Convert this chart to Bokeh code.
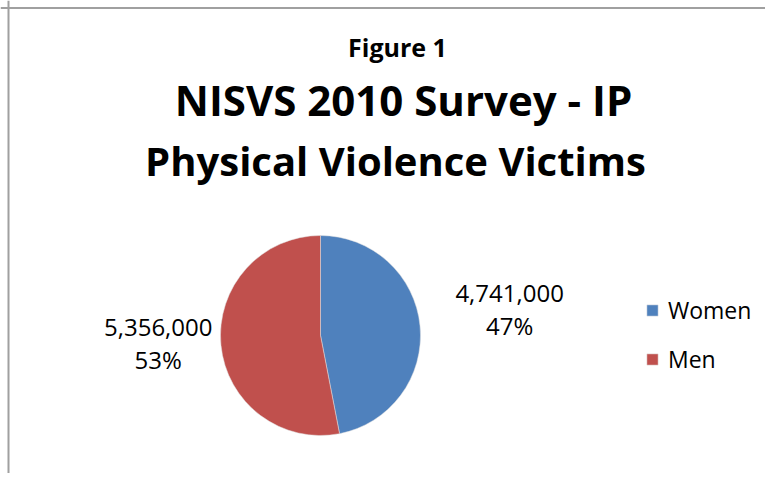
import math
from bokeh.plotting import figure
from bokeh.models import Range1d, Label, Legend, LegendItem, Span
from bokeh.embed import file_html
from bokeh.resources import INLINE

# ---- data ----
categories = ["Women", "Men"]
victims = [4741000, 5356000]
colors = ["#4F81BD", "#C0504D"]
fig_label = "Figure 1"
title_lines = ["NISVS 2010 Survey - IP", "Physical Violence Victims"]

W, H = 765, 473
FONT = "Open Sans"

p = figure(width=W, height=H, output_backend="svg", toolbar_location=None,
           x_range=Range1d(0, W), y_range=Range1d(0, H),
           min_border=0, outline_line_color=None)
p.axis.visible = False
p.grid.visible = False
p.background_fill_color = "white"
p.border_fill_color = "white"

# chart frame (left and top edges visible)
p.add_layout(Span(location=8, dimension="height", line_color="#A0A0A0", line_width=2))
p.add_layout(Span(location=H - 7.5, dimension="width", line_color="#A0A0A0", line_width=2))

# pie geometry
cx, cy, R = 320, H - 335, 100
total = sum(victims)
fracs = [v / total for v in victims]
starts, ends, mids = [], [], []
a = math.pi / 2
for f in fracs:
    e = a - f * 2 * math.pi
    starts.append(e)
    ends.append(a)
    mids.append((a + e) / 2)
    a = e

renderers = []
for i in range(len(categories)):
    r = p.wedge(x=cx, y=cy, radius=R, start_angle=starts[i], end_angle=ends[i],
                fill_color=colors[i], line_color="#E0E0E0", line_width=0.5)
    renderers.append(r)

# data labels
label_radius = [190, 163]
for i, v in enumerate(victims):
    lx = cx + label_radius[i] * math.cos(mids[i])
    ly = cy + label_radius[i] * math.sin(mids[i])
    txt = f"{v:,}"
    pct = f"{round(fracs[i] * 100)}%"
    p.add_layout(Label(x=lx, y=ly + 24, text=txt, text_align="center", text_baseline="alphabetic",
                       text_font=FONT, text_font_size="24px", text_color="black"))
    p.add_layout(Label(x=lx, y=ly - 8, text=pct, text_align="center", text_baseline="alphabetic",
                       text_font=FONT, text_font_size="24px", text_color="black"))

# titles
p.add_layout(Label(x=397, y=H - 46, text=fig_label, text_align="center",
                   text_baseline="alphabetic", text_font=FONT, text_font_style="bold",
                   text_font_size="25px", text_color="black"))
p.add_layout(Label(x=403, y=H - 99, text=title_lines[0], text_align="center",
                   text_baseline="alphabetic", text_font=FONT, text_font_style="bold",
                   text_font_size="42px", text_color="black"))
p.add_layout(Label(x=395, y=H - 160, text=title_lines[1], text_align="center",
                   text_baseline="alphabetic", text_font=FONT, text_font_style="bold",
                   text_font_size="40px", text_color="black"))

legend = Legend(items=[LegendItem(label=categories[i], renderers=[renderers[i]]) for i in range(len(categories))],
                location=(645, 98), orientation="vertical",
                glyph_width=14, glyph_height=14, label_standoff=9, spacing=17,
                padding=0, margin=0, border_line_color=None, background_fill_alpha=0,
                label_text_font=FONT, label_text_font_size="23px", label_text_color="black")
p.add_layout(legend, "center")

open("out.html", "w").write(file_html(p, INLINE))
